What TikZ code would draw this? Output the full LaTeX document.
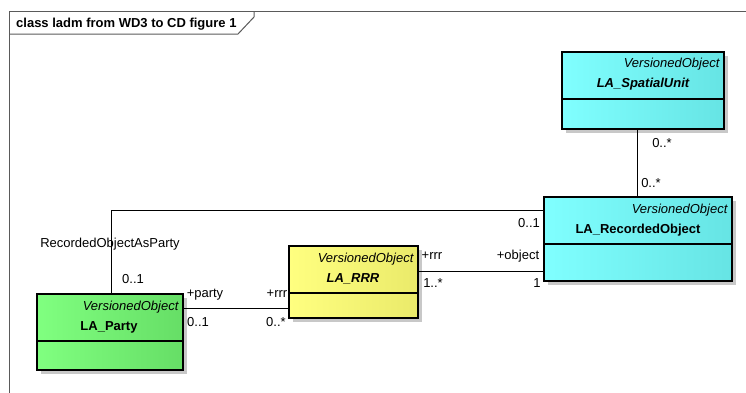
\documentclass[tikz,border=0pt]{standalone}
\usepackage{fontspec}
\setmainfont{Liberation Sans}
\usetikzlibrary{shadows}
\definecolor{cyanL}{RGB}{128,255,255}
\definecolor{cyanR}{RGB}{102,228,228}
\definecolor{greenL}{RGB}{128,255,128}
\definecolor{greenR}{RGB}{102,222,102}
\definecolor{yelL}{RGB}{255,255,128}
\definecolor{yelR}{RGB}{234,234,106}
\definecolor{frameC}{RGB}{90,90,90}
\definecolor{shadowC}{RGB}{200,200,200}
\begin{document}
\begin{tikzpicture}[x=1pt,y=-1pt,
  font=\fontsize{13}{15}\selectfont,
  cls/.style={draw=black, line width=1.2pt, inner sep=0pt,
    general shadow={fill=shadowC, shadow xshift=4pt, shadow yshift=-4pt}},
  cyanbox/.style={cls, left color=cyanL, right color=cyanR},
  greenbox/.style={cls, left color=greenL, right color=greenR},
  yelbox/.style={cls, left color=yelL, right color=yelR},
  stereo/.style={inner sep=0pt, anchor=base east, xshift=-5pt, font=\fontsize{13}{15}\selectfont\itshape},
  cname/.style={inner sep=0pt, anchor=base, font=\fontsize{13}{15}\selectfont\bfseries},
  divider/.style={draw=black, line width=1.2pt},
  lbl/.style={inner sep=0pt, anchor=base},
  assoc/.style={draw=black, line width=1pt},
  framel/.style={draw=frameC, line width=1pt}]
\useasboundingbox (0,0) rectangle (746,392);
\clip (0,0) rectangle (746,392);
% frame
\draw[framel] (9,400) -- (9,11) -- (760,11);
\draw[framel] (9,34) -- (238,34) -- (254,17) -- (254,11);
\node[inner sep=0pt, anchor=base west, font=\fontsize{13}{15}\selectfont\bfseries] (title) at (16,27) {class ladm from WD3 to CD figure 1};

% classes
\node[cyanbox, minimum width=162pt, minimum height=77pt] (su) at (643,90.5) {};
\node[cyanbox, minimum width=188pt, minimum height=84pt] (ro) at (638,239) {};
\node[yelbox, minimum width=129pt, minimum height=72pt] (rrr) at (353.5,282) {};
\node[greenbox, minimum width=146pt, minimum height=76pt] (pa) at (110,332) {};

% dividers
\draw[divider] (su.west |- 0,99) -- (su.east |- 0,99);
\draw[divider] (ro.west |- 0,244) -- (ro.east |- 0,244);
\draw[divider] (rrr.west |- 0,293) -- (rrr.east |- 0,293);
\draw[divider] (pa.west |- 0,341) -- (pa.east |- 0,341);

% class texts
\node[stereo] (su-st) at (su.east |- 0,67) {VersionedObject};
\node[cname, font=\fontsize{13}{15}\selectfont\bfseries\itshape] (su-nm) at (643,87) {LA\_SpatialUnit};
\node[stereo] (ro-st) at (ro.east |- 0,213) {VersionedObject};
\node[cname] (ro-nm) at (638,233) {LA\_RecordedObject};
\node[stereo] (rrr-st) at (rrr.east |- 0,262) {VersionedObject};
\node[cname, font=\fontsize{13}{15}\selectfont\bfseries\itshape] (rrr-nm) at (353,282) {LA\_RRR};
\node[stereo] (pa-st) at (pa.east |- 0,310) {VersionedObject};
\node[cname] (pa-nm) at (109,330) {LA\_Party};

% associations
\draw[assoc] (637,0 |- su.south) -- (637,0 |- ro.north);
\draw[assoc] (pa.east |- 0,308) -- (rrr.west |- 0,308);
\draw[assoc] (rrr.east |- 0,271) -- (ro.west |- 0,271);
\draw[assoc] (111,0 |- pa.north) -- (111,210) -- (ro.west |- 0,210);

% labels
\node[lbl] (l1) at (662,147.5) {0..*};
\node[lbl] (l2) at (651,187.5) {0..*};
\node[lbl] (l3) at (529,227.5) {0..1};
\node[lbl] (l4) at (110,247.5) {RecordedObjectAsParty};
\node[lbl] (l5) at (133,283.5) {0..1};
\node[lbl] (l6) at (205,297.5) {+party};
\node[lbl] (l7) at (198,326.5) {0..1};
\node[lbl] (l8) at (277,297.5) {+rrr};
\node[lbl] (l9) at (276,326.5) {0..*};
\node[lbl] (l10) at (432,259.5) {+rrr};
\node[lbl] (l11) at (518,259.5) {+object};
\node[lbl] (l12) at (433,287.5) {1..*};
\node[lbl] (l13) at (537,287.5) {1};
\end{tikzpicture}
\end{document}
